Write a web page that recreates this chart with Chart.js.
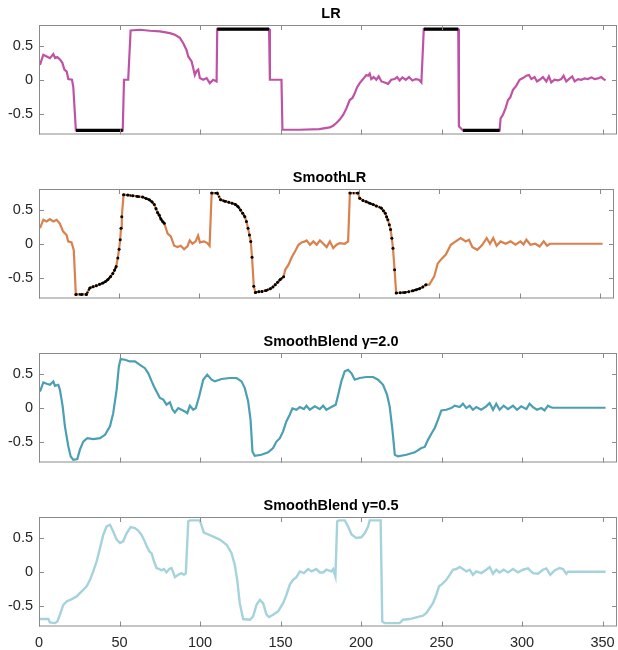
<!DOCTYPE html>
<html>
<head>
<meta charset="utf-8">
<script src="https://cdn.jsdelivr.net/npm/chart.js@4"></script>
<style>
  body { margin: 0; background: #fff; width: 618px; height: 650px; position: relative; overflow: hidden; }
  canvas { position: absolute; left: 0; }
</style>
</head>
<body>
<canvas id="c0" width="618" height="141" style="top:0px"></canvas>
<canvas id="c1" width="618" height="141" style="top:164px"></canvas>
<canvas id="c2" width="618" height="141" style="top:328px"></canvas>
<canvas id="c3" width="618" height="158" style="top:492px"></canvas>
<script>
// axes
const xTicks = [0, 50, 100, 150, 200, 250, 300, 350];
const yTicks = [-0.5, 0, 0.5];
const titles = ['LR', 'SmoothLR', 'SmoothBlend γ=2.0', 'SmoothBlend γ=0.5'];

// series as [x, y] pairs
const lr = [[0.6,0.22],[2.7,0.37],[4.8,0.345],[6.8,0.32],[8.9,0.38],[10.0,0.32],[11.4,0.335],[13.0,0.30],[14.5,0.25],[15.8,0.15],
  [17.2,0.12],[18.2,0.01],[20.5,0.0],[21.3,-0.11],[22.9,-0.75],[52.0,-0.75],[52.8,0.0],[55.4,0.0],[56.9,0.73],[62.7,0.74],
  [68.9,0.725],[75.1,0.715],[81.3,0.69],[84.4,0.665],[87.5,0.62],[89.6,0.54],[91.6,0.44],[92.7,0.345],[94.8,0.27],[95.8,0.17],
  [96.8,0.07],[97.9,0.13],[98.9,0.15],[99.9,0.025],[102.0,0.0],[104.1,0.025],[106.1,-0.05],[108.2,0.0],[110.3,-0.025],[110.7,0.75],
  [142.9,0.75],[143.4,0.0],[150.6,0.0],[151.2,-0.74],[162.0,-0.74],[174.0,-0.73],[180.6,-0.705],[182.7,-0.68],[184.7,-0.64],[186.8,-0.59],
  [188.9,-0.52],[191.0,-0.42],[193.0,-0.30],[194.7,-0.27],[196.1,-0.20],[197.6,-0.11],[199.2,-0.05],[201.3,0.01],[203.3,0.07],[204.4,0.06],
  [205.4,0.09],[206.4,0.01],[207.9,0.04],[209.5,0.0],[211.0,0.05],[212.7,-0.025],[214.7,-0.04],[216.8,-0.06],[218.8,0.0],[220.9,0.01],
  [222.4,0.04],[224.0,-0.01],[225.7,0.035],[227.8,0.0],[229.8,0.04],[231.9,-0.01],[234.0,0.01],[236.0,0.0],[237.5,-0.04],[239.0,0.75],
  [260.4,0.75],[260.8,-0.69],[263.3,-0.75],[286.1,-0.75],[286.7,-0.57],[288.1,-0.52],[289.8,-0.42],[291.3,-0.30],[292.7,-0.26],[294.4,-0.15],
  [296.4,-0.09],[298.5,0.0],[300.6,0.025],[302.7,0.06],[304.3,0.07],[305.8,0.01],[307.8,0.04],[309.3,-0.025],[310.9,0.0],[313.0,0.04],
  [315.1,-0.025],[316.7,0.05],[318.2,-0.04],[320.2,0.0],[322.3,-0.01],[324.4,0.01],[325.8,0.06],[327.5,-0.025],[329.1,0.01],[331.2,0.05],
  [332.7,-0.025],[334.8,0.01],[336.8,0.0],[338.9,0.02],[341.0,0.01],[343.0,0.035],[345.1,0.01],[347.2,0.02],[349.2,0.04],[350.7,0.01],[351.9,-0.01]];

// LR saturated stretches: [start, end, level]
const lrSat = [[23.0, 52.0, -0.75], [110.7, 142.9, 0.75], [239.0, 260.4, 0.75], [263.3, 286.1, -0.75]];

const smoothLR = [[0.6,0.23],[2.7,0.355],[4.8,0.33],[6.8,0.365],[8.9,0.33],[11.0,0.355],[13.0,0.30],[15.1,0.18],[17.2,0.13],[18.2,0.035],
  [20.3,0.02],[21.7,-0.09],[23.0,-0.75],[26.5,-0.75],[29.6,-0.75],[31.7,-0.655],[33.7,-0.635],[35.8,-0.62],[37.9,-0.60],[39.9,-0.58],
  [41.5,-0.56],[43.0,-0.53],[44.6,-0.49],[46.1,-0.44],[47.2,-0.39],[48.2,-0.335],[49.2,-0.21],[50.0,-0.08],[50.7,0.06],[51.2,0.23],
  [51.7,0.40],[52.8,0.725],[55.5,0.72],[58.5,0.71],[61.6,0.70],[64.8,0.69],[66.9,0.67],[68.9,0.65],[70.5,0.62],[72.0,0.58],
  [73.0,0.52],[74.1,0.46],[75.1,0.42],[76.1,0.365],[77.2,0.33],[78.2,0.305],[80.3,0.15],[82.3,0.11],[84.4,-0.03],[86.5,-0.05],
  [88.5,-0.03],[90.6,-0.08],[92.7,-0.04],[94.1,0.05],[95.8,0.0],[97.8,0.035],[99.3,0.12],[100.5,0.02],[103.0,0.035],[105.1,0.01],
  [106.5,-0.03],[107.8,0.75],[111.3,0.75],[113.4,0.65],[116.0,0.63],[118.5,0.615],[120.6,0.60],[122.7,0.58],[124.2,0.55],[125.8,0.50],
  [127.2,0.45],[128.5,0.40],[129.5,0.33],[130.5,0.23],[131.4,0.13],[132.2,0.035],[133.0,-0.20],[134.1,-0.63],[135.1,-0.72],[137.2,-0.71],
  [139.2,-0.705],[141.8,-0.69],[144.4,-0.665],[146.0,-0.64],[147.5,-0.605],[149.0,-0.57],[150.6,-0.53],[152.7,-0.49],[153.7,-0.385],[155.8,-0.31],
  [157.8,-0.20],[159.9,-0.11],[162.0,-0.015],[164.0,0.02],[166.1,0.035],[167.1,0.05],[169.2,-0.015],[171.3,0.035],[173.4,-0.015],[175.4,0.05],
  [177.5,0.0],[179.6,-0.05],[181.6,0.035],[183.7,-0.065],[185.8,-0.015],[187.8,0.01],[190.9,0.0],[193.0,0.035],[194.1,0.75],[199.2,0.75],
  [200.2,0.675],[202.3,0.64],[204.4,0.62],[206.5,0.60],[208.6,0.58],[210.6,0.56],[213.7,0.53],[215.0,0.49],[216.2,0.45],[217.0,0.40],
  [217.8,0.355],[218.7,0.28],[219.5,0.21],[220.3,0.08],[221.0,-0.065],[222.0,-0.385],[223.0,-0.73],[225.6,-0.725],[228.2,-0.72],[230.8,-0.71],
  [233.4,-0.695],[235.5,-0.68],[237.5,-0.665],[239.6,-0.64],[241.6,-0.605],[243.7,-0.605],[246.8,-0.48],[248.9,-0.295],[250.9,-0.235],[254.0,-0.16],
  [257.1,-0.015],[260.2,0.035],[263.3,0.085],[266.4,0.035],[268.5,0.06],[270.6,-0.05],[273.7,-0.09],[276.8,-0.015],[279.5,0.085],[281.6,0.0],
  [283.6,0.085],[285.7,-0.03],[288.2,0.035],[291.3,0.0],[294.4,0.035],[297.5,-0.015],[300.6,0.035],[302.5,-0.01],[304.3,0.06],[306.8,-0.015],
  [309.9,0.0],[312.6,-0.04],[315.1,0.035],[317.2,-0.03],[319.1,0.0],[351.9,0.0]];

// SmoothLR stretches that were replaced (black dots)
const smoothSat = [[23.0, 78.2], [107.8, 152.7], [194.1, 241.6]];

const blend20 = [[0.6,0.24],[2.7,0.375],[4.8,0.355],[6.8,0.34],[8.9,0.39],[9.9,0.325],[12.0,0.34],[13.0,0.265],[14.7,0.02],[16.1,-0.275],
  [18.2,-0.57],[19.7,-0.72],[21.3,-0.77],[23.8,-0.76],[25.4,-0.62],[27.5,-0.50],[30.0,-0.45],[33.7,-0.465],[37.9,-0.45],[41.0,-0.40],
  [44.1,-0.275],[46.1,-0.08],[48.2,0.265],[49.6,0.61],[50.7,0.72],[53.4,0.71],[56.5,0.685],[59.6,0.685],[62.7,0.635],[65.8,0.585],
  [67.9,0.51],[70.0,0.39],[71.4,0.315],[73.0,0.24],[75.1,0.145],[77.2,0.12],[79.2,0.045],[81.3,0.08],[83.0,-0.03],[84.4,-0.07],
  [86.5,-0.005],[88.5,-0.03],[90.6,-0.055],[92.1,-0.08],[93.7,0.03],[95.8,-0.03],[97.4,-0.005],[99.5,0.17],[102.0,0.415],[104.5,0.49],
  [107.2,0.415],[109.2,0.39],[113.4,0.425],[118.5,0.44],[122.7,0.44],[125.8,0.39],[127.8,0.29],[129.9,0.095],[131.4,-0.18],[132.6,-0.65],
  [134.0,-0.71],[138.2,-0.695],[142.3,-0.66],[145.4,-0.595],[147.5,-0.50],[149.6,-0.45],[151.6,-0.35],[153.7,-0.20],[155.8,-0.10],[157.4,-0.01],
  [159.9,-0.03],[162.0,0.01],[164.5,-0.02],[166.1,0.03],[168.2,-0.03],[171.3,0.02],[174.4,-0.02],[176.5,0.03],[178.5,-0.03],[181.6,0.01],
  [184.3,0.045],[185.8,0.19],[187.8,0.39],[189.9,0.54],[192.0,0.56],[194.1,0.51],[196.1,0.415],[199.2,0.44],[203.3,0.455],[207.5,0.455],
  [210.6,0.415],[213.7,0.34],[216.2,0.19],[217.8,0.02],[219.5,-0.325],[221.0,-0.695],[223.0,-0.72],[228.2,-0.695],[233.4,-0.66],[237.5,-0.595],
  [239.6,-0.58],[241.6,-0.475],[243.7,-0.385],[245.8,-0.30],[247.8,-0.18],[249.9,-0.04],[253.0,-0.03],[256.1,-0.005],[258.2,0.03],[261.3,0.01],
  [263.3,0.06],[265.4,-0.005],[267.5,0.03],[269.5,-0.03],[271.6,0.01],[274.7,-0.03],[277.8,0.02],[279.9,0.07],[282.0,-0.03],[284.0,0.06],
  [286.1,-0.03],[288.6,0.03],[291.3,-0.02],[294.4,0.03],[296.9,-0.03],[299.5,0.02],[302.7,-0.02],[304.7,0.06],[306.8,0.01],[309.3,-0.03],
  [312.0,-0.005],[314.0,-0.04],[316.1,0.03],[317.6,0.01],[319.0,0.0],[351.9,0.0]];

const blend05 = [[0.6,-0.70],[5.8,-0.70],[6.8,-0.75],[9.9,-0.76],[11.4,-0.735],[13.0,-0.635],[15.1,-0.49],[17.2,-0.44],[20.3,-0.405],[23.4,-0.365],
  [26.5,-0.29],[29.6,-0.215],[31.7,-0.12],[33.7,0.005],[35.8,0.155],[37.9,0.35],[39.9,0.545],[42.0,0.67],[44.1,0.695],[46.1,0.595],
  [48.2,0.475],[50.3,0.425],[52.3,0.45],[54.4,0.57],[56.9,0.66],[59.6,0.645],[61.6,0.61],[63.7,0.545],[65.2,0.475],[66.8,0.385],
  [68.5,0.30],[69.9,0.275],[71.4,0.155],[73.0,0.055],[74.7,0.04],[76.1,0.02],[77.6,0.04],[79.2,-0.01],[80.9,0.04],[82.3,0.055],
  [83.4,-0.01],[84.4,-0.08],[86.5,-0.045],[88.5,-0.02],[90.0,-0.045],[91.2,-0.02],[92.7,0.745],[93.7,0.76],[99.9,0.76],[102.4,0.58],
  [107.2,0.53],[112.3,0.475],[116.5,0.40],[119.6,0.275],[121.6,0.10],[123.1,-0.12],[124.7,-0.465],[126.8,-0.70],[131.0,-0.71],[133.0,-0.66],
  [135.1,-0.49],[137.2,-0.415],[139.2,-0.465],[141.3,-0.635],[142.9,-0.67],[145.4,-0.635],[148.5,-0.585],[151.6,-0.465],[153.7,-0.34],[155.8,-0.19],
  [157.8,-0.12],[159.9,-0.08],[162.0,0.005],[164.5,-0.02],[167.2,0.04],[169.2,0.005],[172.3,0.04],[174.4,-0.01],[176.5,-0.01],[178.5,0.03],
  [181.6,0.005],[182.7,0.04],[184.1,-0.07],[185.2,0.745],[186.4,0.76],[189.9,0.76],[192.0,0.67],[194.1,0.55],[197.1,0.50],[200.2,0.51],
  [202.3,0.57],[204.4,0.67],[205.4,0.76],[212.2,0.76],[213.2,-0.735],[214.7,-0.76],[224.0,-0.76],[226.1,-0.71],[230.2,-0.70],[234.3,-0.675],
  [238.5,-0.65],[240.6,-0.61],[242.6,-0.54],[244.7,-0.465],[246.8,-0.34],[248.5,-0.215],[250.5,-0.18],[253.0,-0.12],[255.1,-0.045],[257.1,0.03],
  [259.2,0.04],[261.3,0.07],[263.3,0.04],[265.4,0.005],[267.5,0.03],[269.5,-0.045],[271.6,0.005],[274.7,-0.02],[277.8,0.03],[279.9,0.07],
  [282.0,-0.03],[284.0,0.03],[286.1,-0.01],[288.6,0.03],[291.3,-0.01],[294.4,0.04],[297.5,-0.01],[300.6,0.03],[303.7,0.05],[306.8,-0.02],
  [309.9,-0.03],[313.0,0.03],[315.1,0.05],[317.6,-0.045],[320.2,0.02],[323.3,0.055],[325.4,0.04],[327.5,-0.03],[328.5,0.0],[351.9,0.0]];

const colors = ['#c052a6', '#d9814c', '#4a9fb3', '#a5d3dc'];
const axisColor = '#8a8a8a';
const textColor = '#262626';
const FONT = 'Arial, "Liberation Sans", Helvetica, sans-serif';

const toPts = arr => arr.map(p => ({ x: p[0], y: p[1] }));

function lineSet(arr, color, width) {
  return { data: toPts(arr), borderColor: color, borderWidth: width, pointRadius: 0, tension: 0, fill: false, order: 2 };
}

// box, inward ticks and title, like the original figure
const framePlugin = {
  id: 'frame',
  afterDraw(chart, args, opts) {
    const { ctx, chartArea: a, scales } = chart;
    ctx.save();
    ctx.strokeStyle = axisColor;
    ctx.lineWidth = 1;
    ctx.strokeRect(a.left + 0.5, a.top + 0.5, a.right - a.left - 1, a.bottom - a.top - 1);
    ctx.beginPath();
    xTicks.forEach(v => {
      const px = Math.round(scales.x.getPixelForValue(v)) + 0.5;
      ctx.moveTo(px, a.bottom); ctx.lineTo(px, a.bottom - 5);
      ctx.moveTo(px, a.top); ctx.lineTo(px, a.top + 5);
    });
    yTicks.forEach(v => {
      const py = Math.round(scales.y.getPixelForValue(v)) + 0.5;
      ctx.moveTo(a.left, py); ctx.lineTo(a.left + 5, py);
      ctx.moveTo(a.right, py); ctx.lineTo(a.right - 5, py);
    });
    ctx.stroke();
    ctx.fillStyle = '#000';
    ctx.font = 'bold 14.5px ' + FONT;
    ctx.textAlign = 'center';
    ctx.textBaseline = 'alphabetic';
    ctx.fillText(opts.text, (a.left + a.right) / 2 + 3, a.top - 7);
    ctx.restore();
  }
};

function makeChart(id, title, datasets, showX) {
  return new Chart(document.getElementById(id), {
    type: 'line',
    data: { datasets },
    options: {
      responsive: false,
      animation: false,
      layout: { padding: { top: 25, right: 1, left: 0, bottom: 0 } },
      plugins: { legend: { display: false }, tooltip: { enabled: false }, title: { display: false }, frame: { text: title } },
      scales: {
        x: {
          type: 'linear', min: 0, max: 359,
          grid: { display: false, drawTicks: false }, border: { display: false },
          afterBuildTicks: s => { s.ticks = xTicks.map(v => ({ value: v })); },
          ticks: { display: showX, color: textColor, font: { size: 14.5, family: FONT }, padding: 8, maxRotation: 0 },
          afterFit: s => { s.height = showX ? 23.5 : 6.5; s.paddingLeft = 0; s.paddingRight = 0; }
        },
        y: {
          min: -0.81, max: 0.81,
          grid: { display: false, drawTicks: false }, border: { display: false },
          afterBuildTicks: s => { s.ticks = yTicks.map(v => ({ value: v })); },
          ticks: { color: textColor, font: { size: 14.5, family: FONT }, padding: 6, callback: v => String(v) },
          afterFit: s => { s.width = 39; s.paddingTop = 0; s.paddingBottom = 0; }
        }
      }
    },
    plugins: [framePlugin]
  });
}

// LR with black saturated stretches on top
const lrSets = [lineSet(lr, colors[0], 2.2)];
lrSat.forEach(s => {
  const d = lineSet([[s[0], s[2]], [s[1], s[2]]], '#000', 3.2);
  d.order = 1;
  lrSets.push(d);
});
makeChart('c0', titles[0], lrSets, false);

// SmoothLR with black dots on the replaced stretches (dotted where the curve is gentle)
const slSets = [lineSet(smoothLR, colors[1], 2.2)];
smoothSat.forEach(r => {
  const part = smoothLR.filter(p => p[0] >= r[0] && p[0] <= r[1]);
  slSets.push({
    data: toPts(part), order: 1, borderWidth: 2.2, borderDash: [1.6, 1.4], pointRadius: 1.5, pointBorderWidth: 0,
    pointBackgroundColor: '#000', tension: 0,
    segment: { borderColor: c => Math.abs(c.p1.y - c.p0.y) > 2.5 * Math.abs(c.p1.x - c.p0.x) ? 'rgba(0,0,0,0)' : '#000' }
  });
});
makeChart('c1', titles[1], slSets, false);

makeChart('c2', titles[2], [lineSet(blend20, colors[2], 2.2)], false);
makeChart('c3', titles[3], [lineSet(blend05, colors[3], 2.4)], true);
</script>
</body>
</html>
